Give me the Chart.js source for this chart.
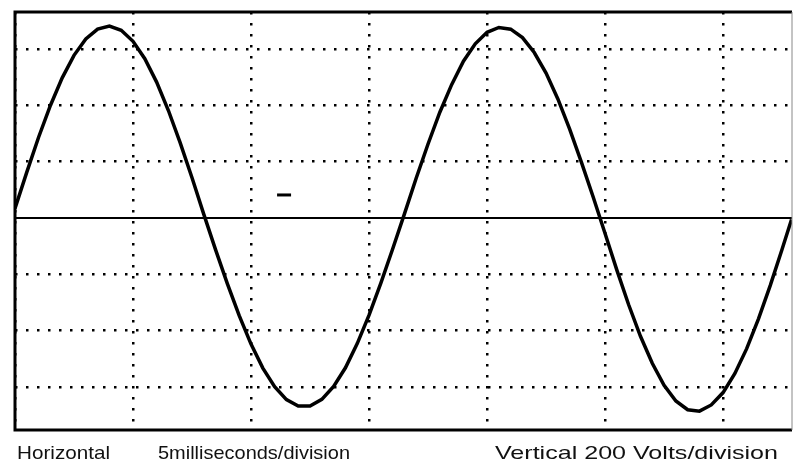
<!DOCTYPE html>
<html>
<head>
<meta charset="utf-8">
<script src="https://cdn.jsdelivr.net/npm/chart.js@4"></script>
<style>
  html, body { margin: 0; background: #fff; overflow: hidden; }
  canvas { display: block; }
</style>
</head>
<body>
<canvas id="scope" width="793" height="468"></canvas>
<script>
// time in ms, trace in volts
var timeMs = [0, 0.5, 1, 1.5, 2, 2.5, 3, 3.5, 4, 4.5, 5, 5.5, 6, 6.5, 7, 7.5, 8,
  8.5, 9, 9.5, 10, 10.5, 11, 11.5, 12, 12.5, 13, 13.5, 14, 14.5, 15, 15.5, 16,
  16.5, 17, 17.5, 18, 18.5, 19, 19.5, 20, 20.5, 21, 21.5, 22, 22.5, 23, 23.5, 24, 24.5,
  25, 25.5, 26, 26.5, 27, 27.5, 28, 28.5, 29, 29.5, 30, 30.5, 31, 31.5, 32, 32.5, 32.9];
var volts = [34, 163, 287, 400, 498, 578, 636, 671, 682, 667, 628, 566, 483, 382, 267, 143, 13,
  -113, -234, -347, -448, -533, -599, -645, -668, -668, -644, -598, -532, -446, -345, -231, -110,
  15, 142, 263, 376, 474, 557, 619, 660, 677, 671, 641, 588, 515, 423, 316, 198, 74,
  -55, -185, -308, -420, -516, -594, -650, -681, -686, -664, -620, -552, -464, -358, -239, -111, -5];

// little dash on the screen
var markT = [11.4];
var markV = [82];

var hLabel = "Horizontal";
var hScale = "5milliseconds/division";
var vScale = "Vertical 200 Volts/division";

var trace = [];
for (var i in timeMs) {
  trace.push({x: timeMs[i], y: volts[i]});
}
var marks = [];
for (var j in markT) {
  marks.push({x: markT[j], y: markV[j]});
}

var dots = [2.5, 8.5];

function gridColor(c) {
  if (!c.tick) return 'rgba(0,0,0,0)';
  var v = Math.round(c.tick.value * 1000) / 1000;
  if (c.scale.axis === 'y') return (v % 200 === 0) ? '#000' : 'rgba(0,0,0,0)';
  return (v % 5 === 0) ? '#000' : 'rgba(0,0,0,0)';
}

var framePlugin = {
  id: 'frame',
  afterDatasetsDraw: function(chart) {
    var a = chart.chartArea, c = chart.ctx;
    c.save();
    c.strokeStyle = '#000';
    c.lineWidth = 3;
    c.beginPath();
    c.moveTo(a.right, a.top); c.lineTo(a.left, a.top);
    c.lineTo(a.left, a.bottom); c.lineTo(a.right, a.bottom);
    c.stroke();
    c.lineWidth = 1;
    c.strokeStyle = '#888';
    c.beginPath();
    c.moveTo(a.right, a.top); c.lineTo(a.right, a.bottom);
    c.stroke();

    // captions under the screen
    c.fillStyle = '#111';
    c.font = '19px "Liberation Sans", Arial, sans-serif';
    c.textBaseline = 'alphabetic';
    var y = 459;
    var items = [[hLabel, 17, 110], [hScale, 158, 350], [vScale, 495, 778]];
    for (var k in items) {
      var t = items[k];
      var w = c.measureText(t[0]).width;
      c.save();
      c.translate(t[1], y);
      c.scale((t[2] - t[1]) / w, 1);
      c.fillText(t[0], 0, 0);
      c.restore();
    }
    c.restore();
  }
};

var ctx = document.getElementById('scope');
new Chart(ctx, {
  type: 'line',
  data: {
    datasets: [
      {
        label: 'trace',
        data: trace,
        borderColor: '#000',
        borderWidth: 3.5,
        pointRadius: 0,
        tension: 0,
        fill: false
      },
      {
        label: 'mark',
        data: marks,
        showLine: false,
        pointStyle: 'line',
        pointRadius: 7,
        borderWidth: 3,
        borderColor: '#000'
      }
    ]
  },
  options: {
    responsive: false,
    animation: false,
    layout: { autoPadding: false, padding: { left: 15, top: 12, right: 1, bottom: 38 } },
    plugins: { legend: { display: false }, tooltip: { enabled: false } },
    scales: {
      x: {
        type: 'linear',
        min: 0,
        max: 32.92,
        ticks: { display: false, stepSize: 5 },
        grid: { color: gridColor, lineWidth: 2.5, drawTicks: false },
        border: { display: false, dash: dots },
        afterFit: function(s) { s.height = 0; s.paddingLeft = 0; s.paddingRight = 0; }
      },
      y: {
        type: 'linear',
        min: -753,
        max: 732,
        ticks: { display: false, stepSize: 200 },
        grid: { color: gridColor, lineWidth: function(c) { return c.tick && c.tick.value === 0 ? 2 : 2.5; }, drawTicks: false },
        border: {
          display: false,
          dash: function(c) { return c.tick && c.tick.value === 0 ? [] : dots; }
        },
        afterFit: function(s) { s.width = 0; s.paddingTop = 0; s.paddingBottom = 0; }
      }
    }
  },
  plugins: [framePlugin]
});
</script>
</body>
</html>
